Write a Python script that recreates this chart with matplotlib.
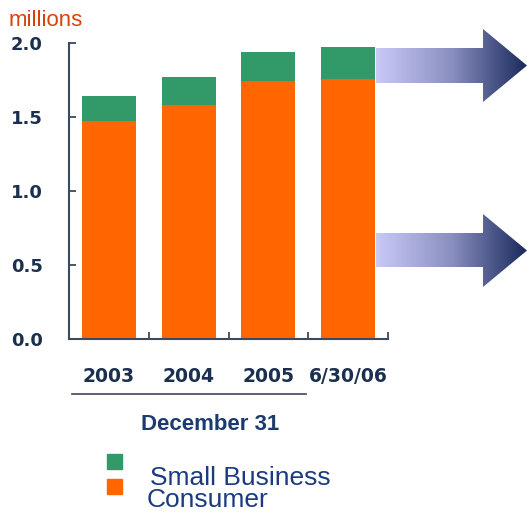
import numpy as np
import matplotlib
matplotlib.use("Agg")
import matplotlib.pyplot as plt
from matplotlib.patches import Polygon, Rectangle
from matplotlib.colors import LinearSegmentedColormap

# data (millions)
periods = ["2003", "2004", "2005", "6/30/06"]
consumer = [1.47, 1.58, 1.74, 1.76]
small_business = [0.17, 0.19, 0.20, 0.21]

ORANGE = "#ff6600"
GREEN = "#319a68"
NAVY = "#1b2f4f"
SPINE = "#3c4a5e"

W, H = 527, 512
fig = plt.figure(figsize=(W / 100, H / 100), dpi=100)
fig.patch.set_facecolor("white")

# main axes in pixel placement
left, right, top, bottom = 69, 388, 43, 339
ax = fig.add_axes([left / W, 1 - bottom / H, (right - left) / W, (bottom - top) / H])

x = np.arange(len(periods))
ax.bar(x, consumer, width=0.675, color=ORANGE, zorder=2)
ax.bar(x, small_business, bottom=consumer, width=0.675, color=GREEN, zorder=2)

ax.set_xlim(-0.5, len(periods) - 0.5)
ax.set_ylim(0, 2.0)
ax.set_yticks([0.0, 0.5, 1.0, 1.5, 2.0])
ax.set_yticklabels(["0.0", "0.5", "1.0", "1.5", "2.0"])
ax.set_xticks(x)
ax.set_xticklabels(periods)
ax.set_xticks(x + 0.5, minor=True)

for s in ("top", "right"):
    ax.spines[s].set_visible(False)
for s in ("left", "bottom"):
    ax.spines[s].set_color(SPINE)
    ax.spines[s].set_linewidth(1.5)

ax.tick_params(axis="y", direction="in", length=5, width=1.3, color=SPINE,
               pad=19, labelsize=13, labelcolor=NAVY)
ax.tick_params(axis="x", which="major", length=0, pad=20,
               labelsize=13.5, labelcolor=NAVY)
ax.tick_params(axis="x", which="minor", direction="in", length=5,
               width=1.3, color=SPINE)
for lab in ax.get_xticklabels() + ax.get_yticklabels():
    lab.set_fontweight("heavy")

# overlay axes in pixel coords for annotations
ov = fig.add_axes([0, 0, 1, 1], zorder=5)
ov.set_xlim(0, W)
ov.set_ylim(H, 0)
ov.axis("off")
ov.patch.set_alpha(0)

ov.text(9, 20, "millions", color="#d8420c", fontsize=16,
        ha="left", va="center", family="Liberation Sans")

# gradient arrows
cmap = LinearSegmentedColormap.from_list("arr", ["#c9c9f7", "#8a8fc0", "#1a2a5c"])
grad = np.linspace(0, 1, 256).reshape(1, -1)


def arrow(y0, y1, hy0, hy1, x0=376, xh=483, xt=527):
    ym = (hy0 + hy1) / 2
    pts = [(x0, y0), (xh, y0), (xh, hy0), (xt, ym), (xh, hy1), (xh, y1), (x0, y1)]
    poly = Polygon(pts, closed=True, facecolor="none", edgecolor="none")
    ov.add_patch(poly)
    im = ov.imshow(grad, cmap=cmap, aspect="auto",
                   extent=(x0, xt, hy1, hy0), zorder=3)
    im.set_clip_path(poly)


arrow(48, 83, 29, 102)
arrow(233, 267, 214, 287)
ov.set_xlim(0, W)
ov.set_ylim(H, 0)

ov.plot([72, 306], [394, 394], color="#4a5568", lw=1.3)
ov.text(210, 425, "December 31", color="#1b3a6e", fontsize=16,
        fontweight="bold", ha="center", va="center", family="Liberation Sans")

ov.add_patch(Rectangle((107, 454), 15, 15, color=GREEN))
ov.add_patch(Rectangle((107, 479), 15, 15, color=ORANGE))
ov.text(150, 478, "Small Business", color="#1b3a80", fontsize=19,
        ha="left", va="center", family="Liberation Sans")
ov.text(147, 500, "Consumer", color="#1b3a80", fontsize=19,
        ha="left", va="center", family="Liberation Sans")

fig.savefig("out.png", dpi=100, facecolor="white")
